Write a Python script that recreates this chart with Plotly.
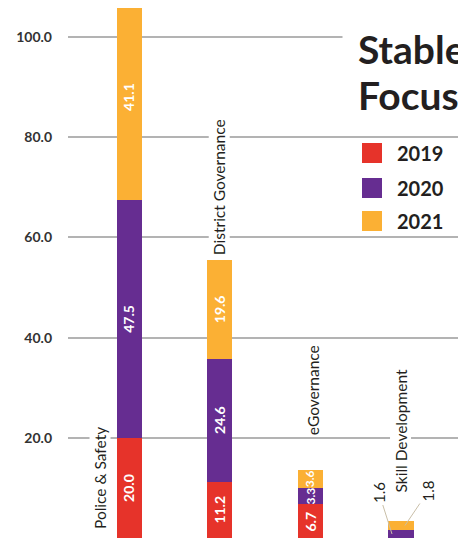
import plotly.graph_objects as go

categories = ["Police & Safety", "District Governance", "eGovernance", "Skill Development"]
years = ["2019", "2020", "2021"]
v2019 = [20.0, 11.2, 6.7, 0.0]
v2020 = [47.5, 24.6, 3.3, 1.6]
v2021 = [41.1, 19.6, 3.6, 1.8]
tick_vals = [0, 20, 40, 60, 80, 100]
title_lines = ["Stable", "Focus"]

colors = ["#E6332A", "#662D91", "#FBB034"]
series = [v2019, v2020, v2021]

FONT = "Lato"
OFF = 8  # page body margin
W, H = 466 - OFF, 540 - OFF
L, R, T, B = 68 - OFF, 0, 0, 2
pw, ph = W - L - R, H - T - B
x_range = [-0.673, 3.717]
y_range = [0, ph / 5.01]


def px(page_x):
    return (page_x - OFF - L) / pw


def py(page_y):
    return 1 - (page_y - OFF - T) / ph


fig = go.Figure()
xs = list(range(len(categories)))
for name, vals, col in zip(years, series, colors):
    fig.add_trace(go.Bar(x=xs, y=vals, name=name, marker=dict(color=col, line=dict(width=0)),
                         width=0.276, showlegend=False, hoverinfo="skip"))

ann = []
# in-bar value labels
for i in range(len(categories)):
    base = 0
    for s, vals in enumerate(series):
        v = vals[i]
        if v >= 3:
            ann.append(dict(x=xs[i], y=base + v / 2, text=f"{v:.1f}", textangle=-90, showarrow=False,
                            font=dict(family=FONT, size=14 if v >= 5 else 12, color="white", weight="bold"),
                            xanchor="center", yanchor="middle"))
        base += v

# small labels with leader lines for Skill Development
sd = len(categories) - 1
ann.append(dict(x=xs[sd], y=v2019[sd] + v2020[sd] / 2, xshift=-9, text=f"{v2020[sd]:.1f}", textangle=-90,
                showarrow=True, arrowhead=0, arrowwidth=1, arrowcolor="#c9bfa8", ax=-13, ay=-41,
                font=dict(family=FONT, size=15, color="#231f20")))
ann.append(dict(x=xs[sd], y=v2019[sd] + v2020[sd] + v2021[sd] / 2, xshift=4, text=f"{v2021[sd]:.1f}", textangle=-90,
                showarrow=True, arrowhead=0, arrowwidth=1, arrowcolor="#c9bfa8", ax=23, ay=-34,
                font=dict(family=FONT, size=15, color="#231f20")))

# category labels
totals = [a + b + c for a, b, c in zip(v2019, v2020, v2021)]
cat_pos = [(0, -29, 7), (totals[1], 0, 3), (totals[2], 3, 33), (totals[3], 0, 26)]
for i, cat in enumerate(categories):
    y, xsft, ysft = cat_pos[i]
    ann.append(dict(x=xs[i], y=y, xshift=xsft, yshift=ysft, text=cat, textangle=-90, showarrow=False,
                    xanchor="center", yanchor="bottom", bgcolor="white", borderpad=1,
                    font=dict(family=FONT, size=15.5, color="#231f20")))

# title (two lines placed separately for tight leading)
ann.append(dict(xref="paper", yref="paper", x=px(342), y=py(24), xanchor="left", yanchor="top",
                text="&nbsp;", showarrow=False, bgcolor="white", width=140, height=100,
                font=dict(size=10)))
for line, base_y in zip(title_lines, [66, 112]):
    ann.append(dict(xref="paper", yref="paper", x=px(356), y=py(base_y + 8), xanchor="left", yanchor="bottom",
                    text=line, showarrow=False,
                    font=dict(family=FONT, size=39, color="#231f20", weight="bold")))

# legend
shapes = []
leg_y = [153, 188, 221]
for name, col, cy in zip(years, colors, leg_y):
    shapes.append(dict(type="rect", xref="paper", yref="paper",
                       x0=px(362), x1=px(382), y0=py(cy + 10), y1=py(cy - 10),
                       fillcolor=col, line=dict(width=0)))
    ann.append(dict(xref="paper", yref="paper", x=px(395), y=py(cy), xanchor="left",
                    yanchor="middle", text=name, showarrow=False,
                    font=dict(family=FONT, size=20, color="#231f20", weight="bold")))

fig.update_layout(
    barmode="stack", width=W, height=H, margin=dict(l=L, r=R, t=T, b=B),
    paper_bgcolor="white", plot_bgcolor="white", annotations=ann, shapes=shapes,
    xaxis=dict(range=x_range, showticklabels=False, showgrid=False, zeroline=False, showline=False, ticks=""),
    yaxis=dict(range=y_range, tickvals=tick_vals, tickformat=".1f", showgrid=True, gridcolor="#b3b3b3",
               gridwidth=1.5, zeroline=False, showline=False, ticklabelstandoff=15,
               tickfont=dict(family=FONT, size=14, color="#333333", weight="bold")),
)
fig.write_html("out.html")
